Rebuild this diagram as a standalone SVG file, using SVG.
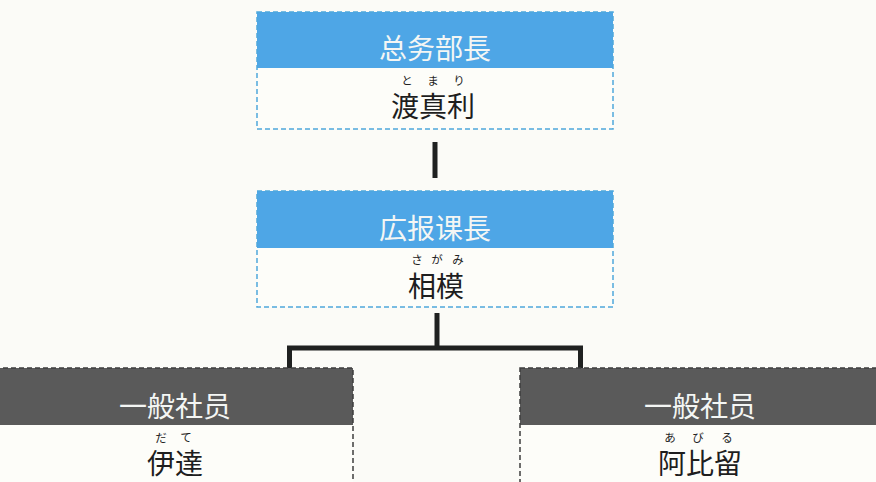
<svg xmlns="http://www.w3.org/2000/svg" width="876" height="482" viewBox="0 0 876 482">
<style>
.hdr-blue{fill:#4ea6e6}
.hdr-gray{fill:#5a5a5a}
.body{fill:#fdfdf9}
.bd-blue{fill:none;stroke:#4fa8dc;stroke-width:1.5;stroke-dasharray:5 3}
.bd-gray{fill:none;stroke:#3e3e3e;stroke-width:1.5;stroke-dasharray:5 3}
.title{font-family:"Noto Sans CJK JP","Noto Sans CJK SC",sans-serif;font-size:28px;fill:#f4f6f4;text-anchor:middle}
.name{font-family:"Noto Sans CJK JP",sans-serif;font-size:28px;fill:#1e1e1e;text-anchor:middle}
.ruby{font-family:"Noto Sans CJK JP",sans-serif;font-size:11.5px;fill:#222;text-anchor:middle}
.conn{fill:none;stroke:#1f2120;stroke-width:5;stroke-linejoin:miter}
</style>
<rect x="0" y="0" width="876" height="482" fill="#fbfbf7"/>
<g id="connectors">
<line class="conn" x1="435" y1="142" x2="435" y2="178"/>
<polyline class="conn" points="289.5,368 289.5,348 580.5,348 580.5,368"/>
<line class="conn" x1="437" y1="313" x2="437" y2="348"/>
</g>
<g id="node-somu">
<rect class="body" x="257" y="12" width="356" height="117"/>
<rect class="hdr-blue" x="257" y="12" width="356" height="56"/>
<rect class="bd-blue" x="257" y="12" width="356" height="117"/>
<text class="title" x="435" y="59">总务部長</text>
<text class="ruby" x="407" y="85">と</text>
<text class="ruby" x="433" y="85">ま</text>
<text class="ruby" x="459" y="85">り</text>
<text class="name" x="433" y="117">渡真利</text>
</g>
<g id="node-koho">
<rect class="body" x="257" y="191" width="356" height="116"/>
<rect class="hdr-blue" x="257" y="191" width="356" height="57"/>
<rect class="bd-blue" x="257" y="191" width="356" height="116"/>
<text class="title" x="435" y="239">広报课長</text>
<text class="ruby" x="417" y="264">さ</text>
<text class="ruby" x="437" y="264">が</text>
<text class="ruby" x="458" y="264">み</text>
<text class="name" x="436" y="297">相模</text>
</g>
<g id="node-date">
<rect class="body" x="-5" y="368" width="358" height="120"/>
<rect class="hdr-gray" x="-5" y="368" width="358" height="57"/>
<rect class="bd-gray" x="-5" y="368" width="358" height="120"/>
<text class="title" x="175" y="417">一般社员</text>
<text class="ruby" x="161" y="442">だ</text>
<text class="ruby" x="186" y="442">て</text>
<text class="name" x="175" y="474">伊達</text>
</g>
<g id="node-abiru">
<rect class="body" x="520" y="368" width="362" height="120"/>
<rect class="hdr-gray" x="520" y="368" width="362" height="57"/>
<rect class="bd-gray" x="520" y="368" width="362" height="120"/>
<text class="title" x="700" y="417">一般社员</text>
<text class="ruby" x="670" y="442">あ</text>
<text class="ruby" x="698" y="442">び</text>
<text class="ruby" x="727" y="442">る</text>
<text class="name" x="700" y="474">阿比留</text>
</g>
</svg>
